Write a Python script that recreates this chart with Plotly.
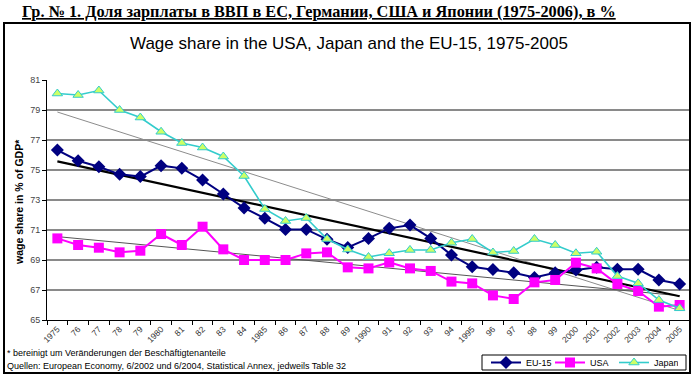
import numpy as np
import plotly.graph_objects as go

years = ["1975","76","77","78","79","1980","81","82","83","84","1985","86","87","88","89",
         "1990","91","92","93","94","1995","96","97","98","99","2000","2001","2002","2003","2004","2005"]

eu15 = [76.33, 75.62, 75.22, 74.71, 74.56, 75.29, 75.11, 74.33, 73.40, 72.47, 71.78, 71.04, 71.04,
        70.38, 69.84, 70.44, 71.11, 71.33, 70.44, 69.33, 68.55, 68.36, 68.15, 67.84, 68.15, 68.33,
        68.51, 68.38, 68.38, 67.67, 67.40]
usa = [70.44, 70.00, 69.82, 69.51, 69.62, 70.73, 70.00, 71.22, 69.71, 69.00, 69.00, 69.00, 69.44,
       69.51, 68.51, 68.44, 68.84, 68.44, 68.27, 67.56, 67.44, 66.64, 66.40, 67.51, 67.67, 68.82,
       68.44, 67.40, 66.93, 65.89, 66.00]
japan = [80.10, 80.00, 80.30, 79.00, 78.50, 77.55, 76.80, 76.50, 75.90, 74.60, 72.40, 71.60, 71.80,
         70.40, 69.70, 69.20, 69.45, 69.67, 69.67, 70.15, 70.40, 69.50, 69.60, 70.40, 70.00, 69.45,
         69.55, 67.93, 67.45, 66.33, 65.78]

W, H = 700, 376
L, R, T, B = 47, 10, 80, 56
PW, PH = W - L - R, H - T - B


def px(x):
    return (x - L) / PW


def py(y):
    return (H - B - y) / PH


def trend(vals):
    idx = np.arange(len(vals))
    k, b = np.polyfit(idx, vals, 1)
    return list(k * idx + b)


fig = go.Figure()

# trend lines (linear regressions of the series)
fig.add_trace(go.Scatter(x=years, y=trend(japan), mode="lines",
                         line=dict(color="#8c8c8c", width=1), showlegend=False, hoverinfo="skip"))
fig.add_trace(go.Scatter(x=years, y=trend(usa), mode="lines",
                         line=dict(color="#555555", width=1), showlegend=False, hoverinfo="skip"))
fig.add_trace(go.Scatter(x=years, y=trend(eu15), mode="lines",
                         line=dict(color="#000000", width=2.2), showlegend=False, hoverinfo="skip"))

fig.add_trace(go.Scatter(x=years, y=eu15, name="EU-15", mode="lines+markers",
                         line=dict(color="#000080", width=2),
                         marker=dict(symbol="diamond", size=10, color="#000080")))
fig.add_trace(go.Scatter(x=years, y=usa, name="USA", mode="lines+markers",
                         line=dict(color="#ff00ff", width=2),
                         marker=dict(symbol="square", size=10, color="#ff00ff")))
fig.add_trace(go.Scatter(x=years, y=japan, name="Japan", mode="lines+markers",
                         line=dict(color="#33cccc", width=1.6),
                         marker=dict(symbol="triangle-up", size=9, color="#ccff66",
                                     line=dict(color="#33cccc", width=1))))

fig.update_layout(
    width=W, height=H,
    margin=dict(l=L, r=R, t=T, b=B, autoexpand=False),
    paper_bgcolor="white", plot_bgcolor="white",
    font=dict(family="Liberation Sans, Arial, sans-serif", color="#000000"),
    showlegend=True,
    legend=dict(orientation="h", x=px(486), y=py(362.5), xanchor="left", yanchor="middle",
                borderwidth=0, bgcolor="rgba(0,0,0,0)",
                font=dict(size=9, family="Liberation Sans"), itemwidth=30,
                entrywidth=19, tracegroupgap=0),
    xaxis=dict(type="category", range=[-0.5, 30.5], showgrid=False, automargin=False,
               showline=True, linecolor="#000000", linewidth=1,
               ticks="outside", tickson="boundaries", ticklen=4, tickcolor="#000000",
               tickangle=-45, tickfont=dict(size=8.5, color="#333333")),
    yaxis=dict(range=[65, 81], tick0=65, dtick=2, showgrid=True, gridcolor="#8a8a8a", gridwidth=1.5,
               showline=True, linecolor="#000000", linewidth=1, zeroline=False, automargin=False,
               ticks="outside", ticklen=4, tickcolor="#000000",
               tickfont=dict(size=9, color="#444444")),
)

fig.add_shape(type="rect", xref="paper", yref="paper",
              x0=px(4), x1=px(690), y0=py(373), y1=py(23),
              line=dict(color="#000000", width=2), layer="above")
fig.add_shape(type="rect", xref="paper", yref="paper",
              x0=px(482), x1=px(686), y0=py(370), y1=py(355),
              line=dict(color="#000000", width=1), layer="above")

fig.add_annotation(text="Гр. № 1. Доля зарплаты в ВВП в ЕС, Германии, США и Японии (1975-2006), в %",
                   xref="paper", yref="paper", x=px(20), y=py(12), xanchor="left", yanchor="middle",
                   showarrow=False,
                   font=dict(family="Liberation Serif", size=16.3, weight="bold", lineposition="under"))
fig.add_annotation(text="Wage share in the USA, Japan and the EU-15, 1975-2005",
                   xref="paper", yref="paper", x=px(349), y=py(43), xanchor="center", yanchor="middle",
                   showarrow=False, font=dict(family="Liberation Sans", size=17))
fig.add_annotation(text="<b>wage share in % of GDP*</b>", textangle=-90,
                   xref="paper", yref="paper", x=px(19), y=py(202), xanchor="center", yanchor="middle",
                   showarrow=False, font=dict(family="Liberation Sans", size=10.5))
fig.add_annotation(text="* bereinigt um Veränderungen der Beschäftigtenanteile",
                   xref="paper", yref="paper", x=px(5), y=py(353), xanchor="left", yanchor="middle",
                   showarrow=False, font=dict(family="Liberation Sans", size=9))
fig.add_annotation(text="Quellen: European Economy, 6/2002 und 6/2004, Statistical Annex, jedweils Table 32",
                   xref="paper", yref="paper", x=px(5), y=py(366), xanchor="left", yanchor="middle",
                   showarrow=False, font=dict(family="Liberation Sans", size=9))

fig.write_html("out.html", config={"displayModeBar": False},
               post_script="document.body.style.margin='0';document.body.style.padding='0';")
